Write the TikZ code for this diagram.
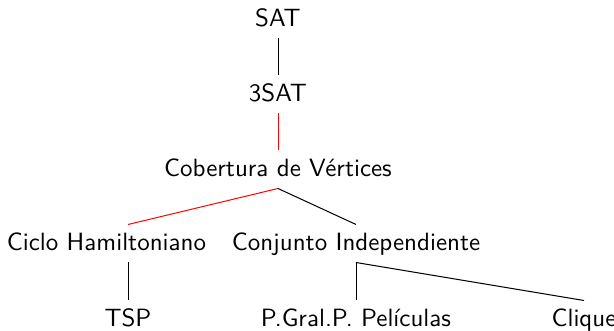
\documentclass[tikz,border=0pt]{standalone}
\usepackage{fontspec}
\begin{document}
\begin{tikzpicture}[x=0.4pt,y=-0.4pt,
  every node/.style={font=\sffamily, anchor=base, text height=7pt, text depth=1pt, inner xsep=0pt, inner ysep=3.4pt},
  edge/.style={draw=black, line width=0.4pt},
  rededge/.style={draw=red, line width=0.4pt}]
\useasboundingbox (0,0) rectangle (614,331);
\node (sat) at (278,27) {SAT};
\node (tsat) at (278,102) {3SAT};
\node (cob) at (278,177) {Cobertura de Vértices};
\node (ciclo) at (106.5,251) {Ciclo Hamiltoniano};
\node (conj) at (356,251) {Conjunto Independiente};
\node (tsp) at (128,327) {TSP};
\node (pg) at (356,327) {P.Gral.P. Películas};
\node (clique) at (584,327) {Clique};
\draw[edge] (sat.south) -- (tsat.north);
\draw[rededge] (tsat.south) -- (cob.north);
\draw[rededge] (cob.south) -- (ciclo.north -| tsp.north);
\draw[edge] (cob.south) -- (conj.north);
\draw[edge] (ciclo.south -| tsp.north) -- (tsp.north);
\draw[edge] (conj.south) -- (pg.north);
\draw[edge] (conj.south) -- (clique.north);
\end{tikzpicture}
\end{document}
